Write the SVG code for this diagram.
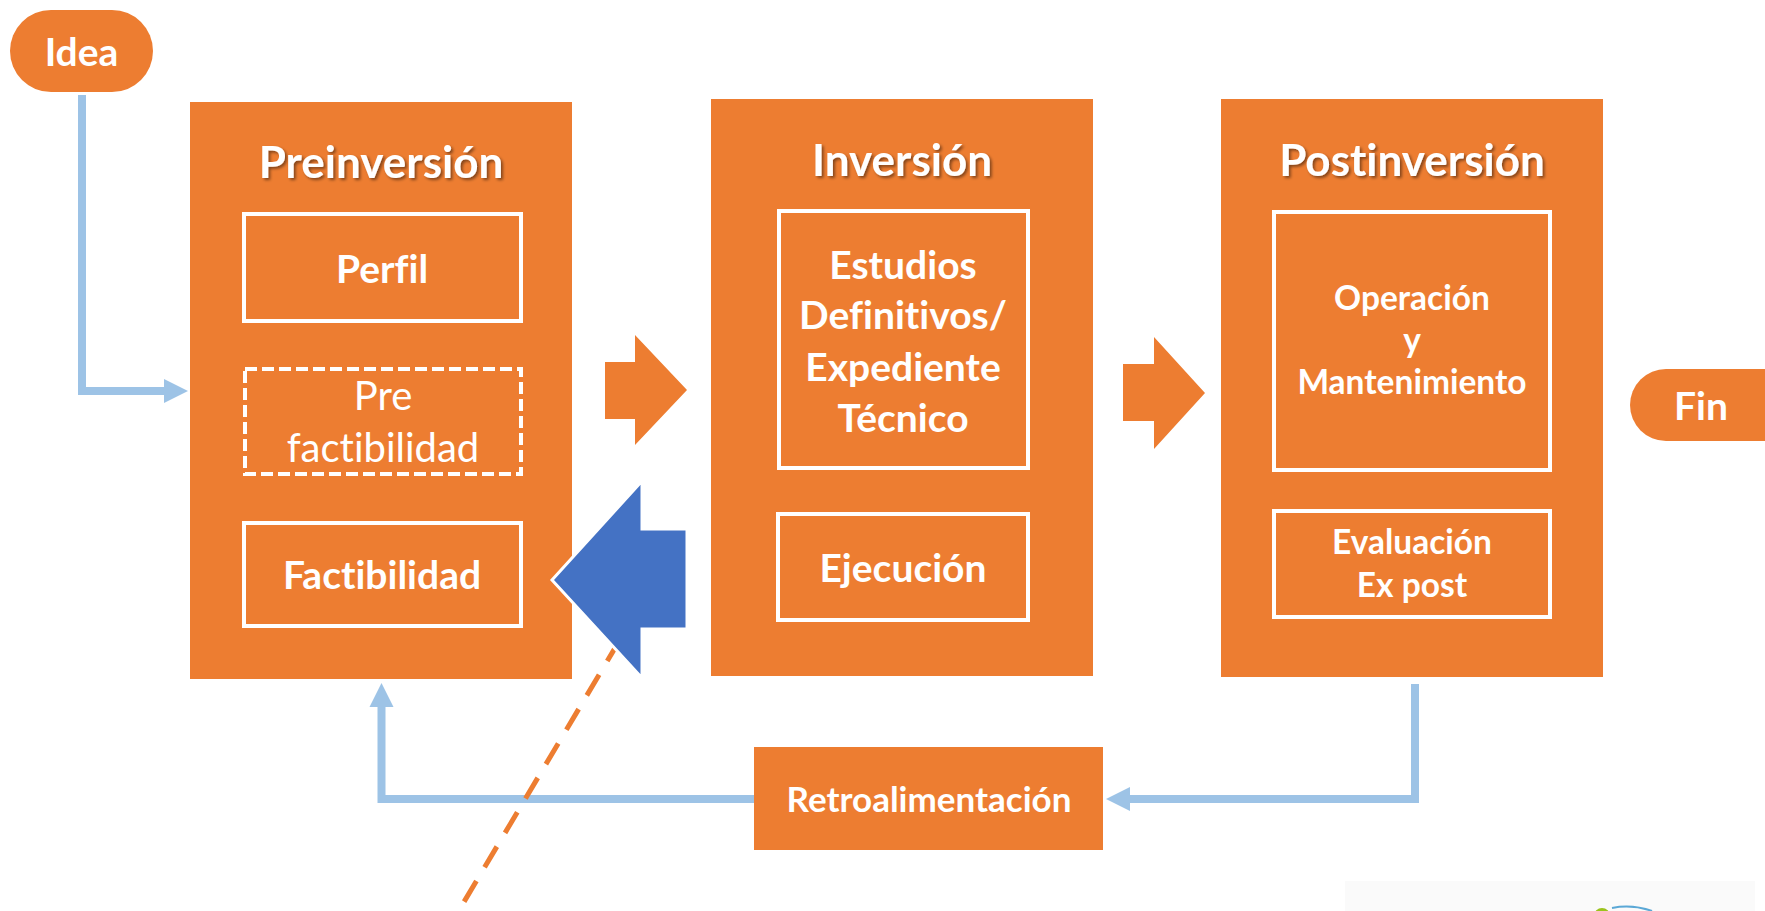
<svg xmlns="http://www.w3.org/2000/svg" width="1765" height="911" viewBox="0 0 1765 911">
<style>
.orange{fill:#ED7D31;}
.inner{fill:none;stroke:#FFFFFF;stroke-width:4;}
.dashedbox{fill:none;stroke:#FFFFFF;stroke-width:4;stroke-dasharray:12 5;}
.conn{fill:none;stroke:#9DC3E6;stroke-width:8;stroke-linejoin:miter;}
.t{font-family:Lato,"Liberation Sans",sans-serif;fill:#FFFFFF;text-anchor:middle;font-variant-ligatures:none;font-feature-settings:"liga" 0,"clig" 0;}
.title{font-size:44px;font-weight:bold;}
.lbl{font-size:39px;font-weight:bold;}
.lblreg{font-size:40px;font-weight:normal;}
.small{font-size:33.5px;font-weight:bold;}
.retro{font-size:35px;font-weight:bold;}
.pill{font-size:39px;font-weight:bold;}
</style>
<defs>
<marker id="ah" markerUnits="userSpaceOnUse" markerWidth="24" markerHeight="24" refX="0" refY="12" orient="auto" overflow="visible">
<path d="M0,0 L24,12 L0,24 Z" fill="#9DC3E6"/>
</marker>
<filter id="sh" x="-10%" y="-20%" width="120%" height="150%">
<feDropShadow dx="2" dy="2" stdDeviation="1.5" flood-color="#000000" flood-opacity="0.45"/>
</filter>
</defs>
<rect x="0" y="0" width="1765" height="911" fill="#FFFFFF"/>
<g id="logo">
<rect x="1345" y="881" width="410" height="30" fill="#FAFAFA"/>
<circle cx="1602" cy="916" r="8" fill="#9BC31C"/>
<path d="M1612,908 Q1632,904 1652,911" fill="none" stroke="#5BA8D6" stroke-width="2"/>
</g>
<g id="connectors">
<path class="conn" d="M82,95 V391 H164" marker-end="url(#ah)"/>
<path class="conn" d="M1415,684 V799 H1130" marker-end="url(#ah)"/>
<path class="conn" d="M754,799 H381.5 V707" marker-end="url(#ah)"/>
<path d="M640,606 L455,917" fill="none" stroke="#ED7D31" stroke-width="5" stroke-dasharray="24 16"/>
</g>
<g id="idea">
<rect class="orange" x="10" y="10" width="143" height="82" rx="41" ry="41"/>
<text class="t pill" x="81.5" y="66">Idea</text>
</g>
<g id="preinversion">
<rect class="orange" x="190" y="102" width="382" height="577"/>
<text class="t title" x="381" y="178" filter="url(#sh)">Preinversión</text>
</g>
<g id="perfil">
<rect class="inner" x="244" y="214" width="277" height="107"/>
<text class="t lbl" x="382" y="283">Perfil</text>
</g>
<g id="prefactibilidad">
<rect class="dashedbox" x="245" y="369" width="276" height="105"/>
<text class="t lblreg" x="383" y="410">Pre</text>
<text class="t lblreg" x="383" y="462">factibilidad</text>
</g>
<g id="factibilidad">
<rect class="inner" x="244" y="523" width="277" height="103"/>
<text class="t lbl" x="382" y="589">Factibilidad</text>
</g>
<g id="arrow1">
<polygon class="orange" points="605,362 635,362 635,335 687,390 635,445 635,419 605,419"/>
</g>
<g id="inversion">
<rect class="orange" x="711" y="99" width="382" height="577"/>
<text class="t title" x="902" y="176" filter="url(#sh)">Inversión</text>
</g>
<g id="estudios">
<rect class="inner" x="779" y="211" width="249" height="257"/>
<text class="t lbl" x="903" y="279">Estudios</text>
<text class="t lbl" x="903" y="329">Definitivos/</text>
<text class="t lbl" x="903" y="381">Expediente</text>
<text class="t lbl" x="903" y="432">Técnico</text>
</g>
<g id="ejecucion">
<rect class="inner" x="778" y="514" width="250" height="106"/>
<text class="t lbl" x="903" y="582">Ejecución</text>
</g>
<g id="arrow2">
<polygon class="orange" points="1123,364 1154,364 1154,337 1205,393 1154,449 1154,421 1123,421"/>
</g>
<g id="postinversion">
<rect class="orange" x="1221" y="99" width="382" height="578"/>
<text class="t title" x="1412" y="176" filter="url(#sh)">Postinversión</text>
</g>
<g id="operacion">
<rect class="inner" x="1274" y="212" width="276" height="258"/>
<text class="t small" x="1412" y="310">Operación</text>
<text class="t small" x="1412" y="352">y</text>
<text class="t small" x="1412" y="394">Mantenimiento</text>
</g>
<g id="evaluacion">
<rect class="inner" x="1274" y="511" width="276" height="106"/>
<text class="t small" x="1412" y="554">Evaluación</text>
<text class="t small" x="1412" y="597">Ex post</text>
</g>
<g id="fin">
<rect class="orange" x="1630" y="369" width="170" height="72" rx="36" ry="36"/>
<text class="t pill" x="1701" y="420">Fin</text>
</g>
<g id="retroalimentacion">
<rect class="orange" x="754" y="747" width="349" height="103"/>
<text class="t retro" x="929" y="812">Retroalimentación</text>
</g>
<g id="blue-arrow">
<polygon points="687,529 642,529 642,481 552,580 642,678 642,629 687,629" fill="#4472C4" stroke="#FFFFFF" stroke-width="3" stroke-linejoin="miter"/>
</g>
</svg>
